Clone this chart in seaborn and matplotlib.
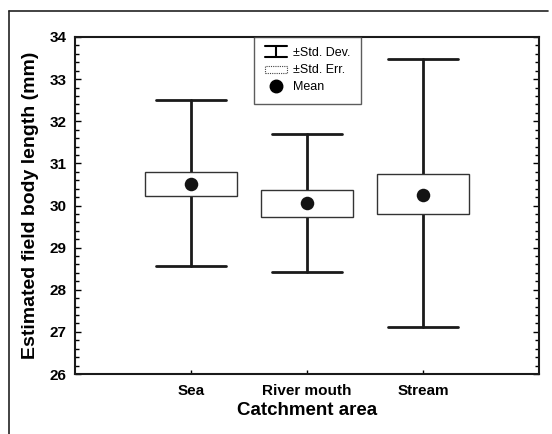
import numpy as np
import matplotlib
matplotlib.use("Agg")
import matplotlib.pyplot as plt
from matplotlib.lines import Line2D
from matplotlib.patches import Rectangle
from matplotlib.legend_handler import HandlerBase
from matplotlib.ticker import MultipleLocator
import seaborn as sns
import pandas as pd

# Catchment areas and body-length summaries (mm)
areas = ["Sea", "River mouth", "Stream"]
mean_len = [30.5, 30.05, 30.25]
se_low = [30.22, 29.73, 29.79]
se_high = [30.79, 30.37, 30.75]
sd_low = [28.56, 28.42, 27.12]
sd_high = [32.5, 31.7, 33.48]

y_ticks = [26, 27, 28, 29, 30, 31, 32, 33, 34]

sns.set_theme(style="white")
plt.rcParams["font.family"] = ["Liberation Sans", "DejaVu Sans"]
plt.rcParams.update({"text.color": "black", "axes.labelcolor": "black",
                     "xtick.color": "black", "ytick.color": "black"})

df = pd.DataFrame({"area": areas, "mean": mean_len})

fig = plt.figure(figsize=(5.52, 4.34), dpi=100)
ax = fig.add_axes([75 / 552, 1 - 374 / 434, 464 / 552, 337 / 434])

pos = np.arange(len(areas))
box_w = 0.8
cap_w = 0.61

# ±SD whiskers with caps
for p, lo, hi in zip(pos, sd_low, sd_high):
    ax.plot([p, p], [lo, hi], color="#1a1a1a", lw=2.0, zorder=1)
    for v in (lo, hi):
        ax.plot([p - cap_w / 2, p + cap_w / 2], [v, v], color="#1a1a1a", lw=2.0, zorder=1)

# ±SE boxes
ax.bar(pos, np.array(se_high) - np.array(se_low), bottom=se_low, width=box_w,
       color="white", edgecolor="#333333", linewidth=1.0, zorder=2)

# Means
sns.scatterplot(data=df, x="area", y="mean", ax=ax, s=95, color="#141414",
                edgecolor="#141414", linewidth=0, zorder=3, legend=False)

ax.set_xlim(-1, 3)
ax.set_ylim(26, 34)
ax.set_xticks(pos)
ax.set_xticklabels(areas, fontsize=11, fontweight="bold")
ax.set_yticks(y_ticks)
ax.set_yticklabels([str(t) for t in y_ticks], fontsize=11, fontweight="bold")
ax.yaxis.set_minor_locator(MultipleLocator(0.2))
ax.tick_params(axis="y", which="major", direction="in", length=4, width=1,
               left=True, right=True, pad=6)
ax.tick_params(axis="y", which="minor", direction="in", length=3, width=1,
               left=True, right=True)
ax.tick_params(axis="x", which="major", direction="in", length=3, width=1,
               bottom=True, pad=7)
for s in ax.spines.values():
    s.set_color("#1a1a1a")
    s.set_linewidth(1.5)

ax.set_xlabel("Catchment area", fontsize=13.5, fontweight="bold", labelpad=3)
ax.set_ylabel("Estimated field body length (mm)", fontsize=14, fontweight="bold",
              labelpad=8)


class IBeamHandler(HandlerBase):
    def create_artists(self, legend, orig, xd, yd, w, h, fs, trans):
        cx = xd + w / 2
        y0, y1 = yd - 1, yd + h + 1
        arts = [
            Line2D([cx, cx], [y0, y1], color="black", lw=1.5),
            Line2D([xd + w * 0.05, xd + w * 0.95], [y0, y0], color="black", lw=1.5),
            Line2D([xd + w * 0.05, xd + w * 0.95], [y1, y1], color="black", lw=1.5),
        ]
        for a in arts:
            a.set_transform(trans)
        return arts


class BoxHandler(HandlerBase):
    def create_artists(self, legend, orig, xd, yd, w, h, fs, trans):
        r = Rectangle((xd + w * 0.05, yd + h * 0.05), w * 0.9, h * 0.8,
                      facecolor="white", edgecolor="#444444", lw=0.8, ls=(0, (1, 1)))
        r.set_transform(trans)
        return [r]


h_sd = Line2D([], [])
h_se = Rectangle((0, 0), 1, 1)
h_mean = Line2D([], [], marker="o", ls="none", color="black", markersize=9)
leg = ax.legend([h_sd, h_se, h_mean], ["±Std. Dev.", "±Std. Err.", "Mean"],
                handler_map={h_sd: IBeamHandler(), h_se: BoxHandler()},
                loc="upper left", bbox_to_anchor=(0.386, 1.0), fontsize=9,
                frameon=True, fancybox=False, borderpad=0.8, labelspacing=0.42,
                handlelength=1.9, handletextpad=0.45, borderaxespad=0)
leg.get_frame().set_edgecolor("#333333")
leg.get_frame().set_linewidth(1.0)

# Outer frame lines
fig.add_artist(Line2D([9 / 552, 9 / 552], [0, 1 - 11 / 434], color="#222222", lw=1.2,
                      transform=fig.transFigure))
fig.add_artist(Line2D([9 / 552, 548 / 552], [1 - 11 / 434, 1 - 11 / 434],
                      color="#222222", lw=1.2, transform=fig.transFigure))

fig.savefig("out.png", dpi=100, facecolor="white")
